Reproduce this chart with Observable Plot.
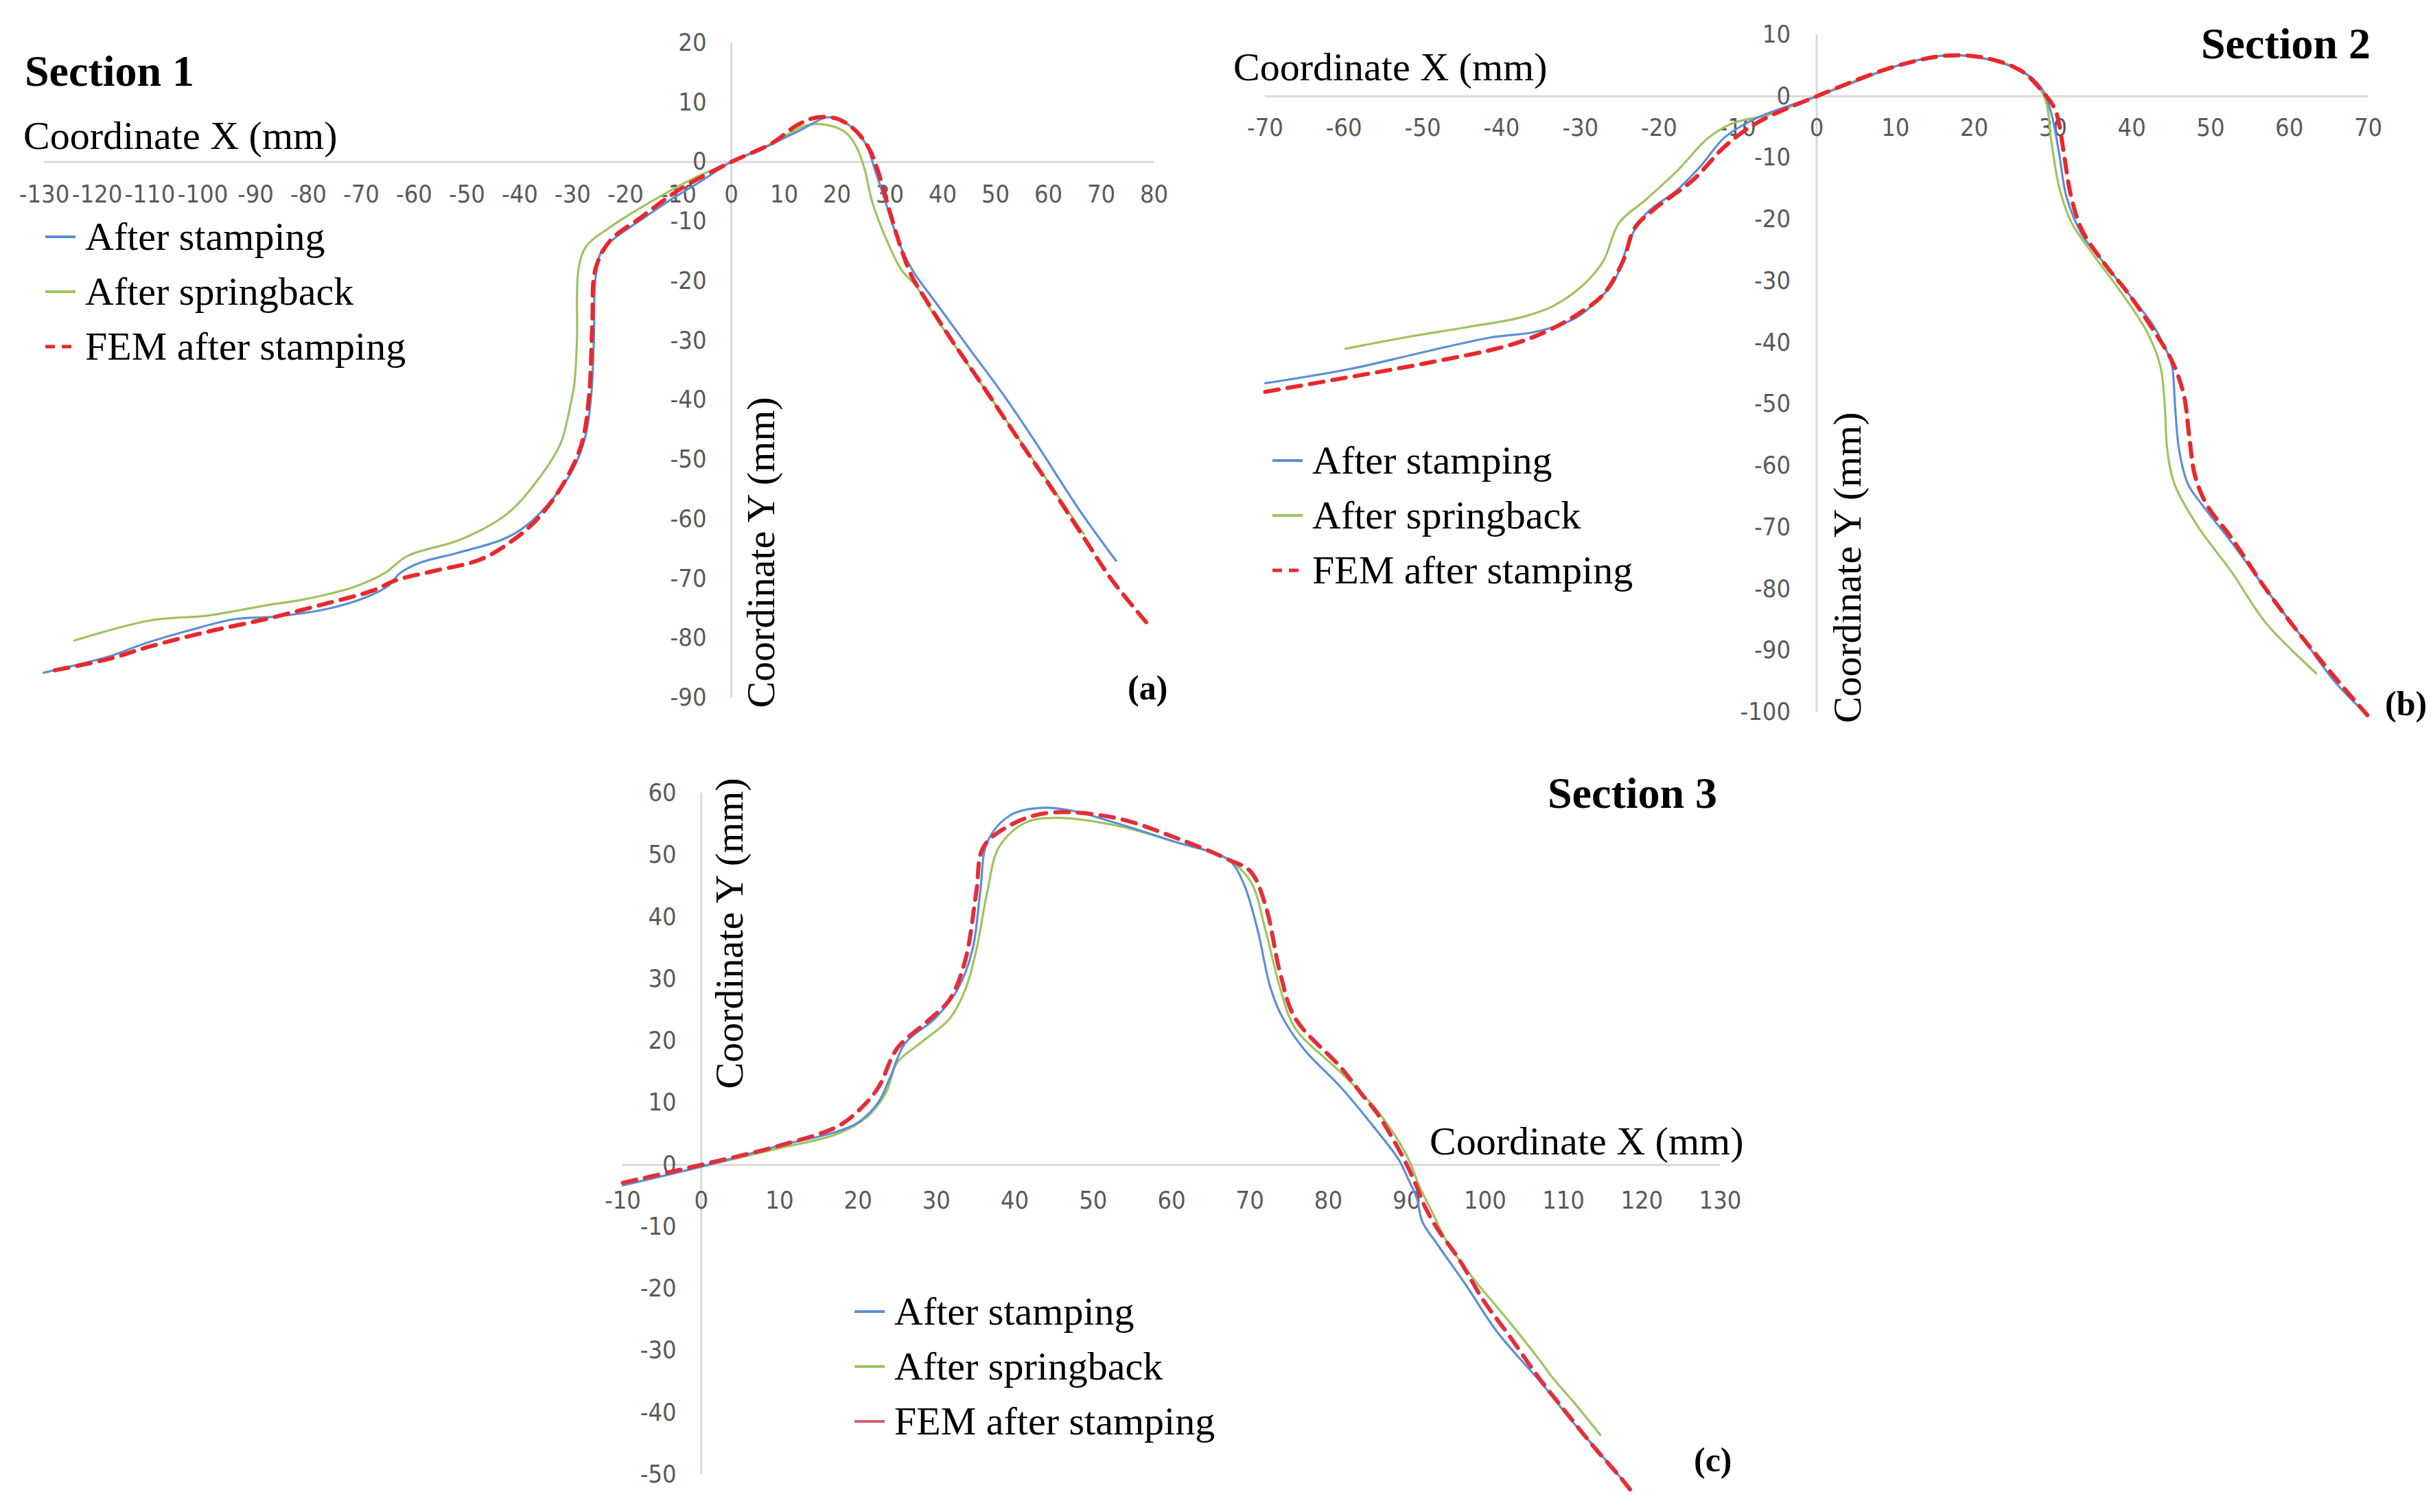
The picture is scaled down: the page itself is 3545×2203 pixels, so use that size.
<!DOCTYPE html>
<html><head><meta charset="utf-8">
<script src="https://cdn.jsdelivr.net/npm/d3@7"></script>
<script src="https://cdn.jsdelivr.net/npm/@observablehq/plot@0.6"></script>
<style>
body{margin:0;background:#fff;}
#page{position:relative;width:3545px;height:2203px;background:#fff;overflow:hidden;}
.abs{position:absolute;white-space:nowrap;line-height:1;}
.serif{font-family:"Liberation Serif","Times New Roman",serif;color:#000;font-size:58px;}
.sec{font-weight:bold;font-size:64px;}
.tag{font-weight:bold;font-size:50px;}
.vc{transform:translateY(-50%);}
.rot{transform:translate(-50%,-50%) rotate(-90deg);}
.leg{display:flex;align-items:center;}
.leg svg{margin-right:14px;}
</style></head>
<body><div id="page"></div>
<script>
// ---------- DATA ----------
const seriesNames = ["After stamping", "After springback", "FEM after stamping"];

// Section 1 [x, y] in mm
const sec1Stamping = [[-130.1,-85.8],[-117.1,-82.9],[-111.3,-81.0],[-102.6,-78.7],[-93.9,-76.8],[-86.6,-76.4],[-76.5,-75.1],[-69.3,-73.2],[-64.9,-71.2],[-62.7,-69.1],[-59.1,-67.4],[-51.9,-65.7],[-43.2,-63.4],[-38.8,-61.1],[-33.7,-56.5],[-30.1,-51.9],[-27.6,-46.1],[-26.5,-39.2],[-26.0,-30],[-25.7,-19.6],[-24.5,-14.9],[-21.6,-12.5],[-17.2,-9.8],[-11.4,-6.3],[-5.5,-3.1],[0,0],[6.1,2.3],[13.4,5.5],[17.7,7.4],[19.8,7.4],[23.2,5.5],[25.6,2.8],[27.1,-1.1],[29.1,-6.5],[30.6,-10.7],[32.1,-14.3],[34.5,-18.5],[37.0,-21.6],[40.0,-25.2],[44.9,-31.2],[51.4,-39.0],[57.8,-47.4],[66.2,-58.9],[72.8,-67.0]];
const sec1Springback = [[-124.3,-80.4],[-109.8,-77.0],[-99.0,-76.2],[-88.1,-74.5],[-80.9,-73.5],[-71.4,-71.4],[-65.6,-69.1],[-61.3,-66.2],[-51.1,-63.4],[-42.4,-59.1],[-36.6,-53.4],[-32.3,-47.3],[-30.5,-41.1],[-29.7,-37.3],[-29.2,-30],[-28.9,-18.0],[-27.4,-14.1],[-23,-11.0],[-15.8,-7.0],[-7,-2.7],[0,0],[7.6,3.1],[14.3,6.2],[18.2,6.2],[21.7,4.9],[23.7,2.5],[25.2,-1.1],[26.6,-6.5],[29.1,-12.5],[32.1,-18.0],[35.1,-21.0],[38.0,-25.2],[44.9,-34.2],[52.8,-44.4],[59.8,-53.5],[66.7,-62.5]];
const sec1Fem = [[-128,-85.4],[-117.8,-83.5],[-110.0,-81.4],[-99.0,-78.9],[-88.1,-76.8],[-78.0,-74.5],[-67.8,-72.0],[-63.5,-70.3],[-56.2,-68.7],[-47.5,-66.8],[-41.7,-63.8],[-36.6,-59.9],[-31.6,-53.8],[-28.3,-47.3],[-26.9,-39.2],[-26.3,-27.4],[-25.7,-18],[-23,-13.3],[-17.2,-9.4],[-9.9,-4.7],[0,0],[7.6,3.1],[12.5,6.2],[16.3,7.5],[20.2,7.2],[23.6,5.2],[26.1,2.2],[27.6,-1.1],[29.6,-7.1],[31.6,-13.1],[34.1,-19.1],[37.0,-23.4],[41.0,-29.0],[47.5,-37.5],[54.5,-46.8],[61.5,-56.0],[67.0,-63.5],[72.0,-70.2],[78.5,-77.3]];

// Section 2
const sec2Stamping = [[-70,-46.6],[-59.3,-44.3],[-49.4,-41.4],[-41.5,-39.2],[-35.5,-38.2],[-30.6,-36.0],[-27.6,-32.9],[-25.6,-29.8],[-23.6,-22.9],[-21.6,-19.0],[-17.7,-15.2],[-14.7,-11.3],[-11.7,-6.7],[-7.7,-3.6],[0,0],[5.2,2.5],[10.1,4.9],[16.1,6.6],[21,6.2],[26,4.1],[28.5,1.4],[29.8,-2.9],[30.8,-9.5],[31.7,-16.3],[33.7,-22.5],[36.6,-27.3],[39.6,-32.1],[42.5,-36.8],[44.5,-41.6],[45.1,-43.7],[45.5,-50.5],[46.0,-57.4],[47.1,-62.9],[48.9,-66.3],[52.7,-72.5],[57.0,-80.0],[61.4,-87.5],[65.8,-95.1],[69.9,-100.5]];
const sec2Springback = [[-59.8,-41.0],[-52.4,-39.2],[-44.4,-37.5],[-37.5,-35.9],[-33.5,-34.1],[-29.6,-30.6],[-27.1,-26.8],[-25.1,-20.6],[-21.6,-16.7],[-17.7,-12.1],[-13.7,-6.7],[-10.7,-4.4],[-5.8,-2.9],[0,0],[10.1,4.9],[16.1,6.6],[21,6.2],[26,4.1],[28.8,0.2],[29.8,-7.5],[30.8,-14.9],[32.3,-20.4],[35.2,-25.9],[38.4,-31.4],[41.9,-38.2],[43.6,-43.7],[44.2,-50.5],[44.5,-57.4],[45.4,-62.9],[48.3,-69.7],[52.7,-77.3],[57.0,-85.5],[63.4,-93.7]];
const sec2Fem = [[-70,-48],[-59.3,-45.6],[-49.4,-43.3],[-39.5,-40.6],[-34.5,-38.3],[-30.6,-35.6],[-27.1,-32.2],[-24.6,-26.8],[-23.1,-21.4],[-20.6,-18.3],[-15.7,-13.6],[-11.7,-8.2],[-7.7,-4.4],[0,0],[10.1,4.9],[16.6,6.6],[21.5,6.2],[26,4.1],[28.5,1.0],[30.2,-2.0],[30.8,-4.7],[31.4,-9.5],[32.3,-16.3],[33.7,-21.8],[36.6,-27.3],[39.6,-32.1],[42.5,-37.5],[45.1,-43.0],[46.6,-48.5],[47.3,-55.3],[48.0,-61.5],[49.5,-66.3],[52.7,-71.8],[57.0,-80.0],[61.4,-87.5],[65.8,-94.4],[69.9,-100.5]];

// Section 3
const sec3Stamping = [[-10,-3.3],[0,-0.3],[9.7,3.0],[17.4,5.4],[20.2,7.0],[22.6,10.1],[24.1,14.1],[26,19.6],[29.8,23.6],[32.7,28.3],[34.6,34.7],[35.6,44.1],[36.5,52.1],[39.4,56.4],[43.2,57.6],[47.1,57.2],[52.8,55.2],[60.5,52.1],[67.2,49.3],[69.1,45.7],[71.0,37.8],[72.5,29.1],[73.9,24.4],[76.8,18.8],[81.6,12.5],[86.0,5.8],[89.0,0.8],[90.3,-2.6],[91.3,-5.4],[92.0,-9.2],[94.0,-13.0],[97.5,-19.3],[101.5,-26.9],[107.3,-35.4],[110.7,-40.8],[114.2,-45.9],[117.3,-50.5]];
const sec3Springback = [[-10,-3.3],[0,-0.3],[9.7,2.6],[17.4,5.0],[21.2,7.8],[23.6,11.7],[25,16.5],[27.9,19.6],[31.7,23.6],[33.7,28.3],[35.1,34.7],[36.5,44.1],[38,51.3],[41.3,55.2],[45.2,56.0],[52.8,54.8],[60.5,52.1],[67.2,49.3],[70.1,45.7],[72,37.8],[73.9,28.3],[75.8,22.0],[81.6,14.9],[86.4,8.5],[90,1.5],[91.7,-3.7],[93.2,-7.5],[95.2,-12.6],[98.6,-18.5],[103.0,-25.2],[106.7,-31.1],[108.7,-34.5],[111.3,-38.3],[114.7,-43.6]];
const sec3Fem = [[-10,-2.9],[0,0],[9.7,3.0],[17.4,6.2],[20.2,8.9],[22.6,12.5],[25,18.8],[28.9,23.2],[31.7,26.7],[33.7,33.1],[35.1,44.1],[36,51.3],[39.4,54.8],[44.2,56.8],[52.8,56.0],[60.5,52.8],[67.2,49.3],[70.1,47.3],[72,41.8],[73.9,30.7],[75.8,23.6],[81.6,15.7],[84.2,11.5],[86.4,8.0],[89.7,0.8],[91.2,-3.3],[92.3,-6.7],[94.0,-10.5],[96.6,-15.1],[99.8,-21.9],[103.2,-27.8],[106.7,-34.1],[110.1,-39.6],[113.6,-45.1],[117.3,-50.5],[118.5,-52.4]];

// Axis ticks
const sec1XTicks = d3.range(-130, 81, 10);
const sec1YTicks = d3.range(-90, 21, 10);
const sec2XTicks = d3.range(-70, 71, 10);
const sec2YTicks = d3.range(-100, 11, 10);
const sec3XTicks = d3.range(-10, 131, 10);
const sec3YTicks = d3.range(-50, 61, 10);

// ---------- STYLE ----------
const BLUE = "#5b8fd6", GREEN = "#9fc35f", RED = "#e8282c";
const tickFont = '"Liberation Sans Narrow","DejaVu Sans Condensed","Liberation Sans",sans-serif';
const page = document.getElementById("page");

function panel(cfg) {
  const {stamping, springback, fem, xDomain, yDomain, left, top, width, height, margin, xTicks, yTicks, xDy, yDx, femColor} = cfg;
  const plot = Plot.plot({
    width, height,
    marginLeft: margin[0], marginRight: margin[1], marginTop: margin[2], marginBottom: margin[3],
    x: {domain: xDomain, axis: null},
    y: {domain: yDomain, axis: null},
    style: {background: "transparent", overflow: "visible", maxWidth: "none"},
    marks: [
      Plot.ruleY([0], {stroke: "#d9d9d9", strokeWidth: 3}),
      Plot.ruleX([0], {stroke: "#d9d9d9", strokeWidth: 3}),
      Plot.text(xTicks, {x: d => d, y: () => 0, dy: xDy, text: d => String(d), fill: "#595959", fontSize: 36, fontFamily: tickFont}),
      Plot.text(yTicks, {x: () => 0, y: d => d, dx: -yDx, textAnchor: "end", text: d => String(d), fill: "#595959", fontSize: 36, fontFamily: tickFont}),
      Plot.line(springback, {x: d => d[0], y: d => d[1], stroke: GREEN, strokeWidth: 3.2, curve: "catmull-rom"}),
      Plot.line(stamping, {x: d => d[0], y: d => d[1], stroke: BLUE, strokeWidth: 3.2, curve: "catmull-rom"}),
      Plot.line(fem, {x: d => d[0], y: d => d[1], stroke: femColor, strokeWidth: 6, strokeDasharray: "20,13", curve: "catmull-rom"})
    ]
  });
  plot.style.position = "absolute";
  plot.style.left = left + "px";
  plot.style.top = top + "px";
  page.appendChild(plot);
}

panel({stamping: sec1Stamping, springback: sec1Springback, fem: sec1Fem, femColor: RED,
  xDomain: [-130, 80], yDomain: [-90, 20], left: 0, top: 0, width: 1760, height: 1060,
  margin: [64, 79, 62, 44], xTicks: sec1XTicks, yTicks: sec1YTicks, xDy: 48, yDx: 36});
panel({stamping: sec2Stamping, springback: sec2Springback, fem: sec2Fem, femColor: RED,
  xDomain: [-70, 70], yDomain: [-100, 10], left: 1760, top: 0, width: 1785, height: 1080,
  margin: [83, 95, 50, 43], xTicks: sec2XTicks, yTicks: sec2YTicks, xDy: 46, yDx: 38});
panel({stamping: sec3Stamping, springback: sec3Springback, fem: sec3Fem, femColor: "#e0303a",
  xDomain: [-10, 130], yDomain: [-50, 60], left: 860, top: 1080, width: 1720, height: 1123,
  margin: [47, 74, 75, 55], xTicks: sec3XTicks, yTicks: sec3YTicks, xDy: 52, yDx: 36});

// ---------- TEXT OVERLAYS ----------
function addText(txt, x, y, cls) {
  const d = document.createElement("div");
  d.className = "abs serif " + cls;
  d.style.left = x + "px"; d.style.top = y + "px";
  d.textContent = txt;
  page.appendChild(d);
  return d;
}
function addLegend(x, y, gap, solidFem, femColor) {
  const colors = [BLUE, GREEN, femColor];
  seriesNames.forEach((name, i) => {
    const d = document.createElement("div");
    d.className = "abs serif leg vc";
    d.style.left = x + "px"; d.style.top = (y + i * gap) + "px";
    const dash = (i === 2 && !solidFem) ? 'stroke-dasharray="14,10"' : "";
    const sw = (i === 2 && !solidFem) ? 5 : 4;
    d.innerHTML = `<svg width="44" height="10"><line x1="0" y1="5" x2="44" y2="5" stroke="${colors[i]}" stroke-width="${sw}" ${dash}/></svg><span>${name}</span>`;
    page.appendChild(d);
  });
}
// Panel (a)
addText("Section 1", 36, 104, "sec vc");
addText("Coordinate X (mm)", 34, 198, "vc");
addText("Coordinate Y (mm)", 1109, 805, "rot");
addText("(a)", 1643, 1002, "tag vc");
addLegend(66, 345, 80, false, RED);
// Panel (b)
addText("Section 2", 3207, 64, "sec vc");
addText("Coordinate X (mm)", 1797, 98, "vc");
addText("Coordinate Y (mm)", 2692, 827, "rot");
addText("(b)", 3475, 1025, "tag vc");
addLegend(1854, 671, 80, false, RED);
// Panel (c)
addText("Section 3", 2255, 1156, "sec vc");
addText("Coordinate X (mm)", 2083, 1663, "vc");
addText("Coordinate Y (mm)", 1063, 1360, "rot");
addText("(c)", 2468, 2127, "tag vc");
addLegend(1245, 1911, 80, true, "#d0606c");
</script>
</body></html>
